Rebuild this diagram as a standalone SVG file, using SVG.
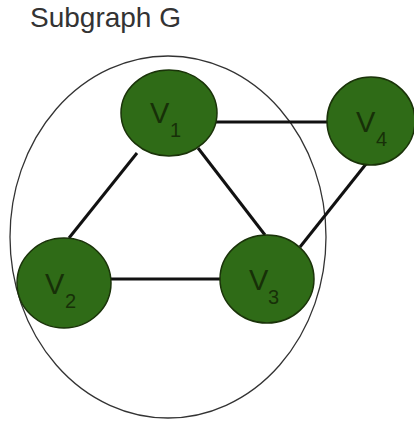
<svg xmlns="http://www.w3.org/2000/svg" width="414" height="424" viewBox="0 0 414 424">
<style>
.node{fill:#2f6b17;stroke:#1a3309;stroke-width:1.5}
.lbl{font-family:"Liberation Sans",Arial,sans-serif;fill:#173008}
.v{font-size:29px}
.s{font-size:20px}
.edge{stroke:#111;stroke-width:3;fill:none}
</style>
<rect width="414" height="424" fill="#fff"/>
<text x="30" y="27" font-family="Liberation Sans, Arial, sans-serif" font-size="28" fill="#333">Subgraph G</text>
<ellipse cx="168" cy="237" rx="158" ry="181" fill="none" stroke="#333" stroke-width="1.3"/>
<g id="connectors">
<line class="edge" x1="216" y1="122" x2="328" y2="122"/>
<line class="edge" x1="110" y1="279" x2="221" y2="279"/>
<line class="edge" x1="137" y1="153" x2="69" y2="238"/>
<line class="edge" x1="198" y1="148" x2="265" y2="235"/>
<line class="edge" x1="300" y1="247" x2="366" y2="164"/>
</g>
<g id="V1"><ellipse class="node" cx="169" cy="113" rx="48" ry="43"/><text class="lbl"><tspan class="v" x="150" y="123">V</tspan><tspan class="s" x="170" y="137">1</tspan></text></g>
<g id="V4"><ellipse class="node" cx="371" cy="121" rx="44" ry="44"/><text class="lbl"><tspan class="v" x="356" y="132">V</tspan><tspan class="s" x="376" y="146">4</tspan></text></g>
<g id="V2"><ellipse class="node" cx="64" cy="283" rx="47" ry="45"/><text class="lbl"><tspan class="v" x="45" y="294">V</tspan><tspan class="s" x="65" y="308">2</tspan></text></g>
<g id="V3"><ellipse class="node" cx="267" cy="279" rx="47" ry="44"/><text class="lbl"><tspan class="v" x="249" y="290">V</tspan><tspan class="s" x="268" y="304">3</tspan></text></g>
</svg>
